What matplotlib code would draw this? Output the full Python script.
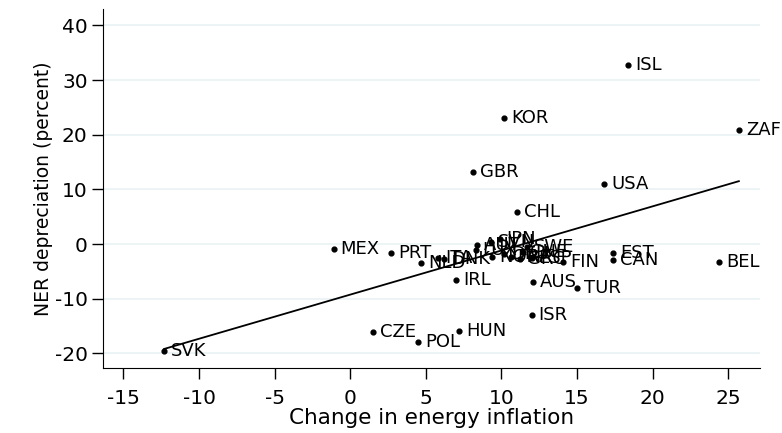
import numpy as np
import matplotlib.pyplot as plt

plt.rcParams['font.family'] = ['DejaVu Sans']
plt.rcParams['axes.unicode_minus'] = False

countries = ['ISL', 'KOR', 'ZAF', 'GBR', 'USA', 'CHL', 'JPN', 'SVN', 'SWE',
             'MEX', 'PRT', 'NLD', 'ITA', 'DNK', 'LUX', 'AUT', 'NOR', 'DEU',
             'FRA', 'GRC', 'CHE', 'ESP', 'FIN', 'EST', 'CAN', 'BEL', 'IRL',
             'AUS', 'TUR', 'ISR', 'HUN', 'CZE', 'POL', 'SVK']
energy = [18.4, 10.2, 25.7, 8.1, 16.8, 11.0, 9.9, 9.3, 11.7,
          -1.1, 2.7, 4.7, 5.8, 6.2, 8.3, 8.4, 9.4, 10.2,
          10.6, 11.2, 11.4, 12.0, 14.1, 17.4, 17.4, 24.4, 7.0,
          12.1, 15.0, 12.0, 7.2, 1.5, 4.5, -12.3]
ner = [32.8, 23.0, 20.9, 13.1, 10.9, 5.8, 1.0, 0.4, -0.5,
       -1.0, -1.7, -3.5, -2.6, -2.8, -1.1, -0.2, -2.3, -1.8,
       -2.3, -2.8, -1.5, -2.5, -3.2, -1.6, -2.9, -3.2, -6.5,
       -6.9, -8.1, -13.0, -15.9, -16.1, -17.9, -19.6]

# fitted line
fit_slope = 0.808
fit_intercept = -9.26

xticks = [-15, -10, -5, 0, 5, 10, 15, 20, 25]
yticks = [-20, -10, 0, 10, 20, 30, 40]

fig = plt.figure(figsize=(7.82, 4.33), dpi=100)
ax = fig.add_axes([0.1317, 0.150, 0.8402, 0.829])

for t in yticks:
    ax.axhline(t, color='#eaf2f3', lw=1.2, zorder=0)

ax.scatter(energy, ner, s=12, color='black', zorder=3)
for c, x, y in zip(countries, energy, ner):
    ax.annotate(c, (x, y), xytext=(5, 0), textcoords='offset points',
                va='center', ha='left', fontsize=13, zorder=4)

xs = np.array([min(energy), max(energy)])
ax.plot(xs, fit_intercept + fit_slope * xs, color='black', lw=1.3, zorder=2)

ax.set_xlim(-16.35, 27.1)
ax.set_ylim(-22.7, 43.0)
ax.set_xticks(xticks)
ax.set_yticks(yticks)
ax.tick_params(labelsize=14.5, length=8, width=1)
ax.tick_params(axis='x', pad=7)
ax.tick_params(axis='y', pad=3)
ax.spines['top'].set_visible(False)
ax.spines['right'].set_visible(False)
ax.set_xlabel('Change in energy inflation', fontsize=15.5, labelpad=0)
ax.set_ylabel('NER depreciation (percent)', fontsize=13.5, labelpad=1)

fig.savefig('out.png', dpi=100)
